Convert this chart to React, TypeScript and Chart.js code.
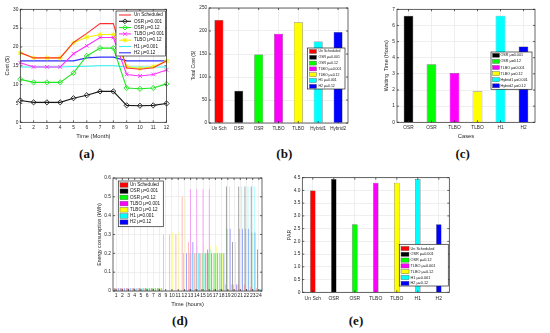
import React, { useEffect, useRef } from "react";
import { Chart, registerables } from "chart.js";

Chart.register(...registerables);

const FONT = '"Liberation Sans", Arial, Helvetica, sans-serif';
const INK = "#262626";
const GRID = "#e4e4e4";

const RED = "#ff0000";
const BLACK = "#000000";
const GREEN = "#00ff00";
const MAGENTA = "#ff00ff";
const YELLOW = "#ffff00";
const CYAN = "#00ffff";
const BLUE = "#0000ff";

// ---------- (a) monthly cost ----------
const monthLabels = ["1", "2", "3", "4", "5", "6", "7", "8", "9", "10", "11", "12"];
const costUnscheduled = [18.5, 17.1, 17.1, 17.1, 21.2, 23.6, 26.2, 26.2, 14.4, 14.1, 14.5, 16.3];
const costOSR001 = [5.8, 5.3, 5.3, 5.3, 6.4, 7.2, 8.2, 8.2, 4.5, 4.4, 4.5, 5.0];
const costOSR012 = [11.4, 10.6, 10.6, 10.6, 13.1, 17.6, 19.7, 19.7, 9.1, 8.9, 9.1, 10.2];
const costTLBO001 = [15.8, 14.7, 14.7, 14.7, 18.2, 20.3, 22.5, 22.5, 12.7, 12.3, 12.7, 13.9];
const costTLBO012 = [18.4, 17.1, 17.1, 17.1, 21.1, 22.6, 23.3, 23.3, 14.8, 14.3, 14.8, 16.3];
const costH1 = [14.7, 14.7, 14.7, 14.7, 14.8, 14.9, 15.0, 15.0, 14.7, 14.7, 14.7, 14.7];
const costH2 = [16.3, 16.3, 16.3, 16.3, 16.3, 17.1, 17.3, 17.3, 16.3, 16.3, 16.3, 16.3];
const costYMax = 30;
const costYStep = 5;

// ---------- (b) total cost ----------
const totalCostLabels = ["Un Sch", "OSR", "OSR", "TLBO", "TLBO", "Hybrid1", "Hybrid2"];
const totalCostValues = [224, 70, 149, 194, 219, 177, 198];
const totalCostMax = 250;
const totalCostStep = 50;

// ---------- (c) waiting time ----------
const waitLabels = ["OSR", "OSR", "TLBO", "TLBO", "H1", "H2"];
const waitValues = [6.6, 3.6, 3.05, 1.93, 6.6, 4.7];
const waitMax = 7;
const waitStep = 1;

// ---------- (d) hourly energy ----------
const hourLabels = ["1", "2", "3", "4", "5", "6", "7", "8", "9", "10", "11", "12", "13", "14", "15", "16", "17", "18", "19", "20", "21", "22", "23", "24"];
const energyUnscheduled = [0.015, 0.015, 0.015, 0.015, 0.015, 0.015, 0.015, 0.015, 0.3, 0.3, 0.3, 0.5, 0.26, 0.2, 0.2, 0.2, 0.2, 0.2, 0.035, 0.035, 0.035, 0.035, 0.02, 0.015];
const energyOSR001 = [0.015, 0.015, 0.015, 0.015, 0.015, 0.015, 0.015, 0.015, 0, 0, 0, 0, 0.01, 0.01, 0.01, 0.22, 0.01, 0.01, 0.555, 0.26, 0.555, 0.555, 0.555, 0.22];
const energyOSR012 = [0.015, 0.015, 0.015, 0.015, 0.015, 0.015, 0.015, 0.015, 0, 0, 0, 0.2, 0.2, 0.2, 0.2, 0.2, 0.2, 0.2, 0.33, 0.035, 0.33, 0.33, 0.31, 0.01];
const energyTLBO001 = [0.015, 0.015, 0.015, 0.015, 0.015, 0.015, 0.015, 0.015, 0, 0, 0, 0, 0.54, 0.54, 0.54, 0.54, 0.2, 0.2, 0.01, 0.01, 0.01, 0.01, 0.01, 0.01];
const energyTLBO012 = [0.015, 0.015, 0.015, 0.015, 0.015, 0.015, 0.015, 0.015, 0, 0.31, 0.31, 0.5, 0.2, 0.24, 0.24, 0.24, 0.24, 0.2, 0.01, 0.01, 0.01, 0.01, 0.01, 0.01];
const energyH1 = [0.015, 0.015, 0.015, 0.015, 0.015, 0.015, 0.015, 0.015, 0, 0, 0, 0, 0.2, 0.2, 0.2, 0.22, 0.2, 0.2, 0.555, 0.26, 0.555, 0.555, 0.555, 0.01];
const energyH2 = [0.015, 0.015, 0.015, 0.015, 0.015, 0.015, 0.015, 0.015, 0, 0, 0, 0.2, 0.26, 0.2, 0.2, 0.2, 0.2, 0.2, 0.33, 0.035, 0.33, 0.33, 0.31, 0.01];
const energyMax = 0.6;
const energyStep = 0.1;

// ---------- (e) PAR ----------
const parLabels = ["Un Sch", "OSR", "OSR", "TLBO", "TLBO", "H1", "H2"];
const parValues = [4.0, 4.45, 2.67, 4.3, 4.3, 4.45, 2.67];
const parMax = 4.5;
const parStep = 0.5;

// ---------- legend labels ----------
const seriesNames = ["Un Scheduled", "OSR \u03bc=0.001", "OSR \u03bc=0.12", "TLBO \u03bc=0.001", "TLBO \u03bc=0.12", "H1 \u03bc=0.001", "H2 \u03bc=0.12"];
const waitNames = ["OSR \u03bc=0.001", "OSR \u03bc=0.12", "TLBO \u03bc=0.001", "TLBO \u03bc=0.12", "Hybrid1 \u03bc=0.001", "Hybrid2 \u03bc=0.12"];
const seriesColors = [RED, BLACK, GREEN, MAGENTA, YELLOW, CYAN, BLUE];
const waitColors = [BLACK, GREEN, MAGENTA, YELLOW, CYAN, BLUE];
const energyFaded = ["rgba(255,0,0,0.38)", "rgba(0,0,0,0.5)", "rgba(0,220,0,0.5)", "rgba(255,0,255,0.45)", "rgba(255,255,0,0.6)", "rgba(0,255,255,0.5)", "rgba(0,0,255,0.5)"];

// ---------- helpers ----------
function drawMarker(ctx: CanvasRenderingContext2D, style: string, x: number, y: number, r: number) {
  ctx.beginPath();
  if (style === "rectRot") {
    ctx.moveTo(x, y - r);
    ctx.lineTo(x + r, y);
    ctx.lineTo(x, y + r);
    ctx.lineTo(x - r, y);
    ctx.closePath();
  } else if (style === "crossRot") {
    const d = r * 0.75;
    ctx.moveTo(x - d, y - d);
    ctx.lineTo(x + d, y + d);
    ctx.moveTo(x + d, y - d);
    ctx.lineTo(x - d, y + d);
  } else if (style === "star") {
    const d = r * 0.75;
    ctx.moveTo(x - d, y - d);
    ctx.lineTo(x + d, y + d);
    ctx.moveTo(x + d, y - d);
    ctx.lineTo(x - d, y + d);
    ctx.moveTo(x - r, y);
    ctx.lineTo(x + r, y);
    ctx.moveTo(x, y - r);
    ctx.lineTo(x, y + r);
  }
  ctx.stroke();
}

type LegendSpec = {
  x: number; y: number; w: number; h: number;
  firstY: number; rowH: number;
  sampleX: number; sampleW: number; sampleH: number;
  textX: number; fontSize: number;
  kind: "line" | "box";
  labels: string[];
  colors: string[];
  markers?: (string | null)[];
};

function legendPlugin(spec: LegendSpec) {
  return {
    id: "boxLegend",
    afterDraw(chart: any) {
      const ctx = chart.ctx as CanvasRenderingContext2D;
      ctx.save();
      ctx.fillStyle = "#ffffff";
      ctx.fillRect(spec.x, spec.y, spec.w, spec.h);
      ctx.strokeStyle = INK;
      ctx.lineWidth = 0.7;
      ctx.strokeRect(spec.x, spec.y, spec.w, spec.h);
      ctx.font = `${spec.fontSize}px ${FONT}`;
      ctx.textBaseline = "middle";
      ctx.textAlign = "left";
      spec.labels.forEach((label, i) => {
        const cy = spec.firstY + i * spec.rowH;
        const color = spec.colors[i];
        if (spec.kind === "line") {
          ctx.strokeStyle = color;
          ctx.lineWidth = 1.1;
          ctx.beginPath();
          ctx.moveTo(spec.sampleX, cy);
          ctx.lineTo(spec.sampleX + spec.sampleW, cy);
          ctx.stroke();
          const m = spec.markers ? spec.markers[i] : null;
          if (m) {
            ctx.lineWidth = 0.9;
            drawMarker(ctx, m, spec.sampleX + spec.sampleW / 2, cy, 2.4);
          }
        } else {
          ctx.fillStyle = color;
          ctx.fillRect(spec.sampleX, cy - spec.sampleH / 2, spec.sampleW, spec.sampleH);
          ctx.strokeStyle = "#555";
          ctx.lineWidth = 0.4;
          ctx.strokeRect(spec.sampleX, cy - spec.sampleH / 2, spec.sampleW, spec.sampleH);
        }
        ctx.fillStyle = "#111";
        ctx.fillText(label, spec.textX, cy);
      });
      ctx.restore();
    },
  };
}

const framePlugin = {
  id: "matlabFrame",
  afterDatasetsDraw(chart: any) {
    const { ctx, chartArea: a, scales } = chart;
    ctx.save();
    ctx.strokeStyle = INK;
    ctx.lineWidth = 0.7;
    ctx.strokeRect(a.left, a.top, a.right - a.left, a.bottom - a.top);
    const tl = 2;
    ctx.beginPath();
    const y = scales.y;
    y.ticks.forEach((_t: any, i: number) => {
      const py = y.getPixelForTick(i);
      ctx.moveTo(a.left, py);
      ctx.lineTo(a.left + tl, py);
      ctx.moveTo(a.right, py);
      ctx.lineTo(a.right - tl, py);
    });
    const x = scales.x;
    x.ticks.forEach((_t: any, i: number) => {
      const px = x.getPixelForTick(i);
      ctx.moveTo(px, a.bottom);
      ctx.lineTo(px, a.bottom - tl);
      ctx.moveTo(px, a.top);
      ctx.lineTo(px, a.top + tl);
    });
    ctx.stroke();
    ctx.restore();
  },
};

function yAxis(o: { max: number; step: number; title: string; width: number; titleX: number; tickSize?: number; titleSize?: number }) {
  const titleSize = o.titleSize ?? 5.5;
  const lh = titleSize * 1.2;
  return {
    type: "linear",
    min: 0,
    max: o.max,
    ticks: { stepSize: o.step, font: { family: FONT, size: o.tickSize ?? 4.8 }, color: INK, padding: 2 },
    grid: { color: GRID, lineWidth: 0.6, drawTicks: false },
    border: { display: false },
    title: {
      display: true,
      text: o.title,
      font: { family: FONT, size: titleSize },
      color: INK,
      padding: { top: o.titleX - lh / 2, bottom: 0 },
    },
    afterFit: (s: any) => {
      s.width = o.width;
    },
  };
}

function xAxis(o: { title?: string; height: number; titleFromBottom?: number; offset: boolean; tickSize?: number; tickPad: number; titleSize?: number }) {
  const titleSize = o.titleSize ?? 5.8;
  const lh = titleSize * 1.2;
  return {
    type: "category",
    offset: o.offset,
    ticks: {
      font: { family: FONT, size: o.tickSize ?? 4.8 },
      color: INK,
      padding: o.tickPad,
      autoSkip: false,
      maxRotation: 0,
      minRotation: 0,
    },
    grid: { color: GRID, lineWidth: 0.6, drawTicks: false, offset: false },
    border: { display: false },
    title: {
      display: !!o.title,
      text: o.title ?? "",
      font: { family: FONT, size: titleSize },
      color: INK,
      padding: { top: 0, bottom: (o.titleFromBottom ?? 6) - lh / 2 },
    },
    afterFit: (s: any) => {
      s.height = o.height;
    },
  };
}

const baseOptions = (padding: any) => ({
  animation: false,
  responsive: false,
  events: [],
  layout: { padding },
  plugins: { legend: { display: false }, tooltip: { enabled: false }, title: { display: false } },
});

function lineDs(label: string, data: number[], color: string, marker?: string) {
  return {
    label,
    data,
    borderColor: color,
    backgroundColor: color,
    borderWidth: 1.1,
    pointRadius: marker ? 2.6 : 0,
    pointStyle: marker ?? "circle",
    pointBorderColor: color,
    pointBackgroundColor: "rgba(0,0,0,0)",
    pointBorderWidth: 0.9,
    tension: 0,
  };
}

// ---------- chart configs ----------
const configA = {
  type: "line",
  data: {
    labels: monthLabels,
    datasets: [
      lineDs(seriesNames[0], costUnscheduled, "#ff3030"),
      lineDs(seriesNames[1], costOSR001, "#1a1a1a", "rectRot"),
      lineDs(seriesNames[2], costOSR012, "#1ee81e", "rectRot"),
      lineDs(seriesNames[3], costTLBO001, "#ff30ff", "crossRot"),
      lineDs(seriesNames[4], costTLBO012, "#f2f200", "star"),
      lineDs(seriesNames[5], costH1, "#30f0f0"),
      lineDs(seriesNames[6], costH2, "#3030ff"),
    ],
  },
  options: {
    ...baseOptions({ left: 0, top: 9.3, right: 5, bottom: 0 }),
    scales: {
      x: xAxis({ title: "Time (Month)", height: 19.7, offset: false, tickPad: 2.8, titleFromBottom: 6 }),
      y: yAxis({ max: costYMax, step: costYStep, title: "Cost ($)", width: 20.3, titleX: 7 }),
    },
  },
  plugins: [
    framePlugin,
    legendPlugin({
      x: 116, y: 11, w: 49.5, h: 45,
      firstY: 15, rowH: 6.3,
      sampleX: 119, sampleW: 12, sampleH: 0,
      textX: 134, fontSize: 4.6,
      kind: "line",
      labels: seriesNames,
      colors: ["#ff3030", "#1a1a1a", "#1ee81e", "#ff30ff", "#f2f200", "#30f0f0", "#3030ff"],
      markers: [null, "rectRot", "rectRot", "crossRot", "star", null, null],
    }),
  ],
};

const barDs = (data: number[], colors: string[], pct: number) => ({
  data,
  backgroundColor: colors,
  borderColor: "#3a3a3a",
  borderWidth: 0.5,
  barPercentage: pct,
  categoryPercentage: 1,
});

const configB = {
  type: "bar",
  data: { labels: totalCostLabels, datasets: [barDs(totalCostValues, seriesColors, 0.45)] },
  options: {
    ...baseOptions({ left: 0, top: 8, right: 8, bottom: 0 }),
    scales: {
      x: xAxis({ height: 19, offset: true, tickPad: 2.6, tickSize: 4.6 }),
      y: yAxis({ max: totalCostMax, step: totalCostStep, title: "Total Cost ($)", width: 29, titleX: 14, tickSize: 4.6, titleSize: 5 }),
    },
  },
  plugins: [
    framePlugin,
    legendPlugin({
      x: 127.5, y: 48, w: 37.5, h: 41,
      firstY: 51.5, rowH: 5.8,
      sampleX: 129.5, sampleW: 7, sampleH: 4,
      textX: 138.5, fontSize: 3.5,
      kind: "box",
      labels: seriesNames,
      colors: seriesColors,
    }),
  ],
};

const configC = {
  type: "bar",
  data: { labels: waitLabels, datasets: [barDs(waitValues, waitColors, 0.42)] },
  options: {
    ...baseOptions({ left: 0, top: 9.3, right: 15, bottom: 0 }),
    scales: {
      x: xAxis({ title: "Cases", height: 19.7, offset: true, tickPad: 2, titleFromBottom: 6, tickSize: 4.8 }),
      y: yAxis({ max: waitMax, step: waitStep, title: "Waiting  Time (Hours)", width: 32, titleX: 21.7, tickSize: 4.8, titleSize: 5.3 }),
    },
  },
  plugins: [
    framePlugin,
    legendPlugin({
      x: 126, y: 52, w: 41, h: 37.3,
      firstY: 55.3, rowH: 6.1,
      sampleX: 127.5, sampleW: 7, sampleH: 4,
      textX: 135.5, fontSize: 3.7,
      kind: "box",
      labels: waitNames,
      colors: waitColors,
    }),
  ],
};

const energySeries = [energyUnscheduled, energyOSR001, energyOSR012, energyTLBO001, energyTLBO012, energyH1, energyH2];

const configD = {
  type: "bar",
  data: {
    labels: hourLabels,
    datasets: energySeries.map((data, i) => ({
      label: seriesNames[i],
      data,
      backgroundColor: energyFaded[i],
      borderWidth: 0,
      barPercentage: 0.95,
      categoryPercentage: 0.85,
    })),
  },
  options: {
    ...baseOptions({ left: 0, top: 8, right: 8, bottom: 0 }),
    scales: {
      x: xAxis({ title: "Time (hours)", height: 19, offset: true, tickPad: 1.8, titleFromBottom: 5.7, tickSize: 5 }),
      y: yAxis({ max: energyMax, step: energyStep, title: "Energy consumption (kWh)", width: 33, titleX: 20, tickSize: 4.8, titleSize: 5.2 }),
    },
  },
  plugins: [
    framePlugin,
    legendPlugin({
      x: 38.3, y: 11, w: 45, h: 45.7,
      firstY: 15, rowH: 6.2,
      sampleX: 40, sampleW: 8, sampleH: 4.6,
      textX: 50, fontSize: 4.6,
      kind: "box",
      labels: seriesNames,
      colors: seriesColors,
    }),
  ],
};

const configE = {
  type: "bar",
  data: { labels: parLabels, datasets: [barDs(parValues, seriesColors, 0.26)] },
  options: {
    ...baseOptions({ left: 0, top: 7.7, right: 5.7, bottom: 0 }),
    scales: {
      x: xAxis({ height: 17.7, offset: true, tickPad: 3.1, tickSize: 5 }),
      y: yAxis({ max: parMax, step: parStep, title: "PAR", width: 32.3, titleX: 20, tickSize: 4.8, titleSize: 5.2 }),
    },
  },
  plugins: [
    framePlugin,
    legendPlugin({
      x: 129.3, y: 74.3, w: 49, h: 41.7,
      firstY: 78.5, rowH: 5.8,
      sampleX: 131, sampleW: 8, sampleH: 4.2,
      textX: 140.5, fontSize: 3.8,
      kind: "box",
      labels: seriesNames,
      colors: seriesColors,
    }),
  ],
};

function ChartBox({ left, top, width, height, config }: { left: number; top: number; width: number; height: number; config: any }) {
  const ref = useRef<HTMLCanvasElement>(null);
  useEffect(() => {
    const chart = new Chart(ref.current as HTMLCanvasElement, config);
    return () => chart.destroy();
  }, [config]);
  return (
    <div style={{ position: "absolute", left, top, width, height }}>
      <canvas ref={ref} width={width} height={height} style={{ width, height, display: "block" }} />
    </div>
  );
}

function Caption({ x, y, text }: { x: number; y: number; text: string }) {
  return (
    <div
      style={{
        position: "absolute",
        left: x,
        top: y,
        transform: "translate(-50%, -50%)",
        fontFamily: '"Liberation Serif", "Times New Roman", serif',
        fontWeight: "bold",
        fontSize: 13,
        color: "#111",
        whiteSpace: "nowrap",
        lineHeight: 1,
      }}
    >
      {text}
    </div>
  );
}

export default function App() {
  return (
    <div style={{ position: "fixed", left: 0, top: 0, width: 550, height: 333, background: "#ffffff", overflow: "hidden" }}>
      <ChartBox left={0} top={0} width={172} height={142} config={configA} />
      <ChartBox left={180} top={0} width={176} height={142} config={configB} />
      <ChartBox left={365} top={0} width={185} height={142} config={configC} />
      <ChartBox left={80} top={170} width={190} height={140} config={configD} />
      <ChartBox left={270} top={170} width={185} height={140} config={configE} />
      <Caption x={86.7} y={153} text="(a)" />
      <Caption x={284.3} y={153} text="(b)" />
      <Caption x={462.7} y={153} text="(c)" />
      <Caption x={180} y={320} text="(d)" />
      <Caption x={356} y={320} text="(e)" />
    </div>
  );
}
